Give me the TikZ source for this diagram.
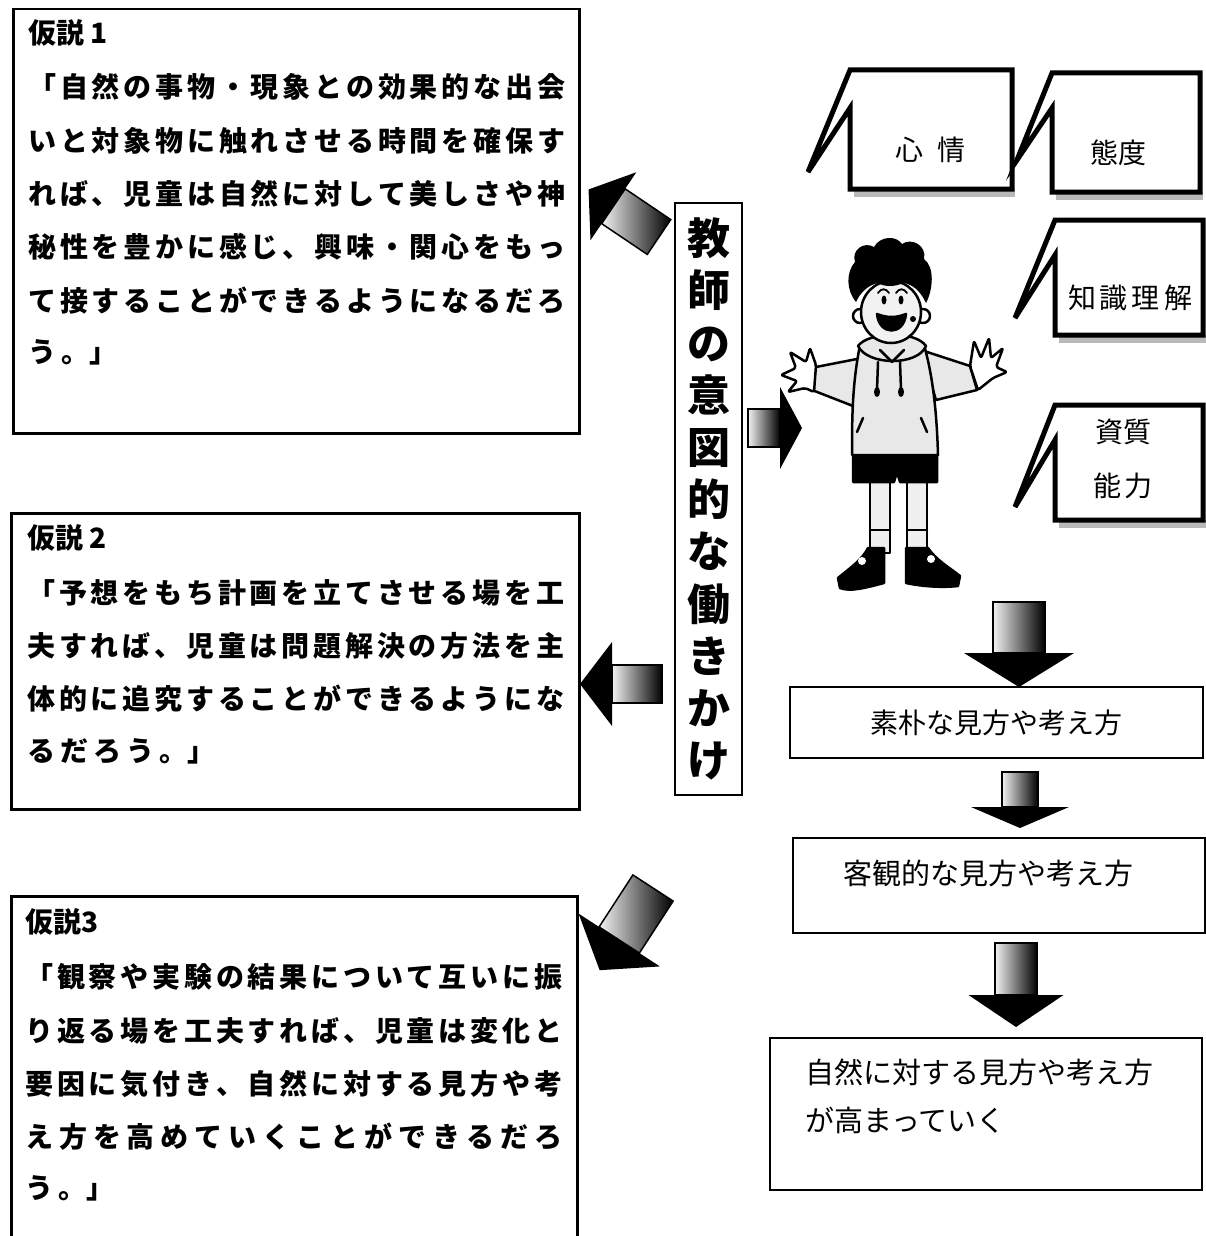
\documentclass[tikz,border=0pt]{standalone}
\usepackage{fontspec}
\newfontfamily\jp{Noto Sans CJK JP}
\usetikzlibrary{positioning}

% characters of one line spread over the full box width
\def\spreadaux#1{\ifx#1\relax\else#1\hfil\expandafter\spreadaux\fi}
\newcommand{\jline}[1]{\hbox to 537pt{\spreadaux#1\relax\unskip}}
\def\spreadkern#1{\ifx#1\relax\else#1\kern5pt\expandafter\spreadkern\fi}
\newcommand{\jlast}[1]{\spreadkern#1\relax}

% fat arrow: tail x, tail y, angle, shaft length, shaft width, head length, head width
\newcommand{\fatarrow}[7]{%
  \begin{scope}[shift={(#1,#2)},rotate=#3]
    \shade[left color=gray!10,right color=black,draw=black,line width=1.5pt]
      (0,-#5/2) rectangle (#4,#5/2);
    \fill (#4,-#7/2) -- (#4+#6,0) -- (#4,#7/2) -- cycle;
  \end{scope}}

% speech bubble: x1, y1, x2, y2, tip x, tip y, notch y
\newcommand{\bubble}[7]{%
  \fill[gray!55] (#1+4,#4) rectangle (#3+3,#4+8);
  \draw[line width=5pt,fill=white] (#3,#2) -- (#1,#2) -- (#5,#6) -- (#1,#7)
    -- (#1,#4) -- (#3,#4) -- cycle;}

\begin{document}
\begin{tikzpicture}[x=1pt,y=-1pt,
    hbox/.style={draw,line width=2.5pt,anchor=north west,inner sep=0pt},
    htext/.style={font=\fontsize{28}{30}\selectfont\jp\bfseries,anchor=west,inner sep=0pt},
    rbox/.style={draw,line width=2pt,inner sep=0pt},
    rtext/.style={font=\fontsize{28}{30}\selectfont\jp,inner sep=0pt},
    btext/.style={font=\fontsize{28}{30}\selectfont\jp,inner sep=0pt},
    kid/.style={draw=black,line width=2.5pt,line join=round,line cap=round},
    cloth/.style={kid,fill=gray!18}]
  \useasboundingbox (0,0) rectangle (1206,1236);

  % hypothesis 1
  \node[hbox,minimum width=566pt,minimum height=424pt] (h1) at (12,8) {};
  \node[htext] (h1t) at (28,33) {仮説 1};
  \node[htext] (h1a) at (28,87) {\jline{「自然の事物・現象との効果的な出会}};
  \node[htext] (h1b) at (28,141) {\jline{いと対象物に触れさせる時間を確保す}};
  \node[htext] (h1c) at (28,194) {\jline{れば、児童は自然に対して美しさや神}};
  \node[htext] (h1d) at (28,247) {\jline{秘性を豊かに感じ、興味・関心をもっ}};
  \node[htext] (h1e) at (28,301) {\jline{て接することができるようになるだろ}};
  \node[htext] (h1f) at (28,352) {\jlast{う}。」};

  % hypothesis 2
  \node[hbox,minimum width=568pt,minimum height=296pt] (h2) at (10,512) {};
  \node[htext] (h2t) at (27,538) {仮説 2};
  \node[htext] (h2a) at (27,593) {\jline{「予想をもち計画を立てさせる場を工}};
  \node[htext] (h2b) at (27,646) {\jline{夫すれば、児童は問題解決の方法を主}};
  \node[htext] (h2c) at (27,699) {\jline{体的に追究することができるようにな}};
  \node[htext] (h2d) at (27,751) {\jlast{るだろう}。」};

  % hypothesis 3
  \node[hbox,minimum width=566pt,minimum height=360pt] (h3) at (10,895) {};
  \node[htext] (h3t) at (25,922) {仮説3};
  \node[htext] (h3a) at (25,977) {\jline{「観察や実験の結果について互いに振}};
  \node[htext] (h3b) at (25,1031) {\jline{り返る場を工夫すれば、児童は変化と}};
  \node[htext] (h3c) at (25,1084) {\jline{要因に気付き、自然に対する見方や考}};
  \node[htext] (h3d) at (25,1137) {\jline{え方を高めていくことができるだろ}};
  \node[htext] (h3e) at (25,1188) {\jlast{う}。」};

  % teacher's intention, set vertically
  \node[draw,line width=2.5pt,minimum width=67pt,minimum height=592pt,inner sep=0pt,
    align=center,font=\fontsize{43}{52.2}\selectfont\jp\bfseries] (kake) at (708.5,499)
    {教\\師\\の\\意\\図\\的\\な\\働\\き\\か\\け};

  % arrows out of the teacher box
  \fatarrow{659}{237}{146}{55}{42}{30}{82}
  \fatarrow{662}{684}{180}{50}{38}{32}{84}
  \fatarrow{653}{888}{237}{62}{48}{36}{97}
  \fatarrow{748}{428}{0}{32}{38}{22}{82}

  % speech bubbles
  \bubble{850}{70}{1012}{189}{808}{172}{108}
  \bubble{1052}{73}{1200}{192}{1017}{160}{108}
  \bubble{1055}{220}{1203}{335}{1015}{318}{255}
  \bubble{1055}{405}{1203}{520}{1015}{507}{440}
  \node[btext] (shinjo) at (930,150) {心\kern14pt 情};
  \node[btext] (taido) at (1118,153) {態度};
  \node[btext] (chishiki) at (1130,298) {知\kern4pt 識\kern4pt 理\kern4pt 解};
  \node[btext] (shishitsu) at (1123,432) {資質};
  \node[btext] (noryoku) at (1123,486) {能\kern4pt 力};

  % the child
  \filldraw[kid,fill=gray!12] (870,478) rectangle (890,553);
  \filldraw[kid,fill=gray!12] (907,478) rectangle (927,553);
  \draw[kid] (870,530) -- (890,530);
  \draw[kid] (907,530) -- (927,530);
  \filldraw[kid,fill=black] (884,548) -- (884,583) .. controls (865,588) and (850,592) .. (840,588)
    -- (838,578) .. controls (850,568) and (862,560) .. (868,548) -- cycle;
  \fill[white] (862,561) circle (4);
  \filldraw[kid,fill=black] (906,548) -- (928,548) .. controls (936,560) and (950,568) .. (960,576)
    -- (958,586) .. controls (940,588) and (920,586) .. (906,583) -- cycle;
  \fill[white] (931,559) circle (4);
  \filldraw[kid,fill=black] (853,452) -- (937,452) -- (937,482) -- (900,482) -- (897,472)
    -- (894,482) -- (853,482) -- cycle;
  \filldraw[cloth] (862,358) -- (816,367) -- (812,390) -- (853,406) -- cycle;
  \filldraw[cloth] (921,350) -- (970,366) -- (977,390) -- (936,400) -- cycle;
  \filldraw[cloth] (860,345) .. controls (852,385) and (852,420) .. (852,455) -- (938,455)
    .. controls (937,420) and (934,380) .. (924,345) -- cycle;
  \filldraw[kid,fill=white,rounded corners=2pt] (816,365) -- (810,348) -- (806,362) -- (790,352)
    -- (796,368) -- (781,375) -- (797,381) -- (788,392) -- (805,388) -- (814,392) -- cycle;
  \filldraw[kid,fill=white,rounded corners=2pt] (970,366) -- (974,341) -- (981,358) -- (989,338)
    -- (991,358) -- (1003,348) -- (996,367) -- (1007,372) -- (993,378) -- (978,390) -- cycle;
  \filldraw[cloth] (858,346) .. controls (868,332) and (915,330) .. (926,346)
    .. controls (918,366) and (868,366) .. (858,346) -- cycle;
  \draw[kid] (880,350) -- (892,362) -- (904,350);
  \draw[kid] (878,362) -- (877,390);
  \fill (877,392) ellipse (3 and 5);
  \draw[kid] (900,362) -- (901,390);
  \fill (901,392) ellipse (3 and 5);
  \draw[kid] (863,418) -- (857,432);
  \draw[kid] (921,418) -- (927,432);
  \filldraw[kid,fill=white] (860,316) circle (7);
  \filldraw[kid,fill=white] (923,316) circle (7);
  \filldraw[kid,fill=gray!10] (891,312) ellipse (30 and 31);
  % curly hair
  \fill (856,302) .. controls (846,290) and (846,272) .. (855,262)
    .. controls (851,250) and (864,241) .. (874,247) .. controls (880,236) and (896,235) .. (902,244)
    .. controls (912,237) and (927,246) .. (924,259) .. controls (935,267) and (933,290) .. (926,303)
    .. controls (921,292) and (913,284) .. (903,283) .. controls (895,287) and (884,287) .. (878,283)
    .. controls (868,285) and (860,293) .. (856,302) -- cycle;
  \fill (884,300) ellipse (2.5 and 4.5);
  \fill (901,300) ellipse (2.5 and 4.5);
  \draw[kid,line width=1.8pt] (878,293) .. controls (881,288) and (886,288) .. (889,293);
  \draw[kid,line width=1.8pt] (896,293) .. controls (899,288) and (904,288) .. (907,293);
  \filldraw[kid,fill=black] (877,314) .. controls (879,336) and (904,336) .. (906,314)
    .. controls (896,318) and (887,318) .. (877,314) -- cycle;
  \fill (913,319) circle (3);

  % views on nature, step by step
  \fatarrow{1019}{602}{270}{51}{52}{34}{110}
  \node[rbox,minimum width=413pt,minimum height=71pt] (soboku) at (996.5,722.5) {};
  \node[rtext] (sobokut) at (996,723) {素朴な見方や考え方};
  \fatarrow{1020}{772}{270}{35}{36}{21}{98}
  \node[rbox,minimum width=412pt,minimum height=95pt] (kyakkan) at (999,885.5) {};
  \node[rtext,font=\fontsize{29}{30}\selectfont\jp] (kyakkant) at (988,873) {客観的な見方や考え方};
  \fatarrow{1016}{943}{270}{52}{42}{32}{95}
  \node[rbox,minimum width=432pt,minimum height=152pt] (shizen) at (986,1114) {};
  \node[rtext,anchor=west,font=\fontsize{29}{30}\selectfont\jp] (shizena) at (805,1072)
    {自然に対する見方や考え方};
  \node[rtext,anchor=west,font=\fontsize{29}{30}\selectfont\jp] (shizenb) at (805,1120)
    {が高まっていく};
\end{tikzpicture}
\end{document}
